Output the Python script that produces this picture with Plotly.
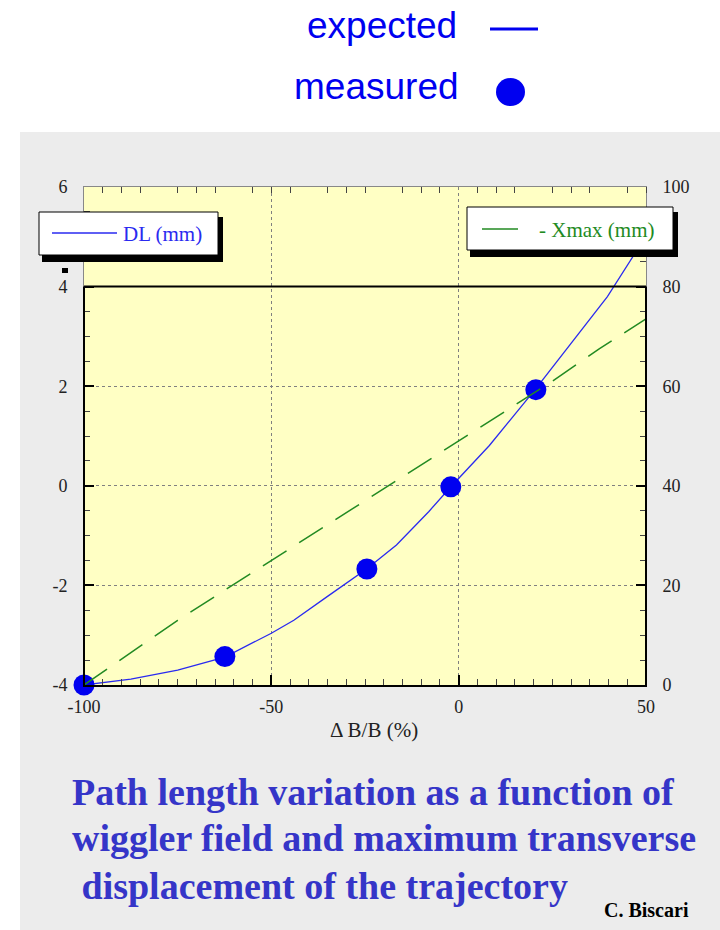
import plotly.graph_objects as go

# ---------------------------------------------------------------------------
# Data
# ---------------------------------------------------------------------------

# expected path length change DL (mm), left axis
DB_EXPECTED = [-100, -87.5, -75, -62.4, -50, -44, -35, -24.4, -16.6, -8, -2.2, 8.2, 20.5, 30, 39.7, 47, 50]
DL_EXPECTED = [-4.0, -3.88, -3.70, -3.44, -2.96, -2.70, -2.22, -1.66, -1.19, -0.52, -0.03, 0.81, 1.94, 2.86, 3.80, 4.66, 5.0]

# - Xmax (mm), right axis
DB_XMAX = [-100, -87.5, -75, -62.5, -50, -37.5, -25, -12.5, 0, 12.5, 25, 37.5, 50]
XMAX = [0, 6.5, 13, 19, 25, 31, 37, 43, 49, 55, 61, 67.5, 73.5]

# measured points (left axis)
DB_MEASURED = [-100, -62.4, -24.5, -2.1, 20.6]
DL_MEASURED = [-4.0, -3.43, -1.67, -0.02, 1.93]

X_TICKS = [-100, -50, 0, 50]
X_TICK_TEXT = ["-100", "-50", "0", "50"]
Y_LEFT_TICKS = [-4, -2, 0, 2, 4, 6]
Y_LEFT_TEXT = ["-4", "-2", "0", "2", "4", "6"]
Y_RIGHT_TICKS = [0, 20, 40, 60, 80, 100]

TITLE_LINES = [
    "Path length variation as a function of",
    "wiggler field and maximum transverse",
    "&nbsp;displacement of the trajectory",
]

# ---------------------------------------------------------------------------
# Styling
# ---------------------------------------------------------------------------

W, H = 720, 930
SERIF = "Liberation Serif, Times New Roman, serif"
SANS = "Liberation Sans, Arial, sans-serif"
BLUE = "#0000f0"
LINE_BLUE = "#2a2af0"
GREEN = "#228a22"
TITLE_BLUE = "#3535c8"
YELLOW = "#ffffc4"
PANEL = "#ececec"


def px(x):
    """pixel x -> paper fraction"""
    return x / W


def py(y):
    """pixel y (from top) -> paper fraction"""
    return 1 - y / H


X_DOMAIN = [px(84), px(646)]
Y_DOMAIN = [py(685), py(187)]
Y_RANGE = [-4, 6]


def y_frac(v):
    return Y_DOMAIN[0] + (v - Y_RANGE[0]) / (Y_RANGE[1] - Y_RANGE[0]) * (Y_DOMAIN[1] - Y_DOMAIN[0])


fig = go.Figure()

fig.add_trace(go.Scatter(
    x=DB_XMAX, y=XMAX, mode="lines", yaxis="y2",
    line=dict(color=GREEN, width=1.5, dash="28px,15px"),
    name="- Xmax (mm)",
))
fig.add_trace(go.Scatter(
    x=DB_EXPECTED, y=DL_EXPECTED, mode="lines",
    line=dict(color=LINE_BLUE, width=1.3),
    name="DL (mm)",
))
fig.add_trace(go.Scatter(
    x=DB_MEASURED, y=DL_MEASURED, mode="markers",
    marker=dict(color=BLUE, size=21, line=dict(width=0)),
    cliponaxis=False, name="measured",
))
# empty trace so the top (mirror) axis with its minor ticks is drawn
fig.add_trace(go.Scatter(x=[], y=[], xaxis="x2", showlegend=False, hoverinfo="skip"))

tickfont = dict(family=SERIF, size=18, color="#222")
minor_common = dict(ticks="inside", ticklen=6, tickwidth=1, tickcolor="#444", showgrid=False)

shapes = []
# white band above and left of the grey panel
shapes.append(dict(type="rect", xref="paper", yref="paper", layer="below",
                   x0=-0.05, x1=1.05, y0=py(132), y1=1.05,
                   fillcolor="white", line=dict(width=0)))
shapes.append(dict(type="rect", xref="paper", yref="paper", layer="below",
                   x0=-0.05, x1=px(20), y0=-0.05, y1=1.05,
                   fillcolor="white", line=dict(width=0)))
# solid black frame of the old -4..4 box
y4 = y_frac(4)
shapes.append(dict(type="line", xref="paper", yref="paper",
                   x0=X_DOMAIN[0], x1=X_DOMAIN[1], y0=y4, y1=y4,
                   line=dict(color="black", width=2)))
for xd in X_DOMAIN:
    shapes.append(dict(type="line", xref="paper", yref="paper",
                       x0=xd, x1=xd, y0=Y_DOMAIN[0], y1=y4,
                       line=dict(color="black", width=2)))
# little black dot artefact
shapes.append(dict(type="rect", xref="paper", yref="paper",
                   x0=px(62), x1=px(68), y0=py(273), y1=py(268),
                   fillcolor="black", line=dict(width=0)))

# legend boxes (shadow + white box + line sample)
for (bx0, by0, bx1, by1, lx0, lx1, ly, col) in [
    (39, 212, 218, 255, 52, 117, 233, LINE_BLUE),
    (467, 207, 673, 250, 482, 518, 229, GREEN),
]:
    shapes.append(dict(type="rect", xref="paper", yref="paper", layer="above",
                       x0=px(bx0 + 3), x1=px(bx1 + 5), y0=py(by1 + 7), y1=py(by0 + 5),
                       fillcolor="black", line=dict(width=0)))
    shapes.append(dict(type="rect", xref="paper", yref="paper", layer="above",
                       x0=px(bx0), x1=px(bx1), y0=py(by1), y1=py(by0),
                       fillcolor="white", line=dict(color="black", width=1)))
    shapes.append(dict(type="line", xref="paper", yref="paper", layer="above",
                       x0=px(lx0), x1=px(lx1), y0=py(ly), y1=py(ly),
                       line=dict(color=col, width=1.5)))

# top key: expected line and measured dot
shapes.append(dict(type="line", xref="paper", yref="paper",
                   x0=px(490), x1=px(538), y0=py(29), y1=py(29),
                   line=dict(color=BLUE, width=3)))
shapes.append(dict(type="circle", xref="paper", yref="paper",
                   x0=px(496), x1=px(525), y0=py(106), y1=py(78),
                   fillcolor=BLUE, line=dict(width=0)))

annotations = [
    dict(text="expected", x=px(459), y=py(26), xanchor="right", yanchor="middle",
         font=dict(family=SANS, size=37, color=BLUE)),
    dict(text="measured", x=px(461), y=py(86), xanchor="right", yanchor="middle",
         font=dict(family=SANS, size=37, color=BLUE)),
    dict(text="DL (mm)", x=px(121), y=py(234), xanchor="left", yanchor="middle",
         font=dict(family=SERIF, size=21, color=LINE_BLUE)),
    dict(text="- Xmax (mm)", x=px(537), y=py(230), xanchor="left", yanchor="middle",
         font=dict(family=SERIF, size=21, color=GREEN)),
    dict(text="Δ B/B (%)", x=px(374), y=py(730), xanchor="center", yanchor="middle",
         font=dict(family=SERIF, size=21, color="#222")),
    dict(text="C. Biscari", x=px(691), y=py(910), xanchor="right", yanchor="middle",
         font=dict(family=SERIF, size=20, color="black", weight="bold")),
]
for line_text, (lx, ly) in zip(TITLE_LINES, [(70, 792), (70, 838), (70, 886)]):
    annotations.append(dict(
        text=line_text, x=px(lx), y=py(ly), xanchor="left", yanchor="middle",
        font=dict(family=SERIF, size=38, color=TITLE_BLUE, weight="bold")))

for a in annotations:
    a.update(xref="paper", yref="paper", showarrow=False)

fig.update_layout(
    width=W, height=H, autosize=False,
    margin=dict(l=0, r=0, t=0, b=0, pad=0, autoexpand=False),
    paper_bgcolor=PANEL,
    plot_bgcolor=YELLOW,
    showlegend=False,
    hovermode=False,
    xaxis=dict(
        domain=X_DOMAIN, range=[-100, 50], anchor="y",
        tickmode="array", tickvals=X_TICKS, ticktext=X_TICK_TEXT,
        ticks="inside", ticklen=10, tickwidth=2, tickcolor="black",
        showline=True, linecolor="black", linewidth=2,
        showgrid=True, gridcolor="#808080", griddash="dot", gridwidth=1,
        zeroline=False, tickfont=tickfont, ticklabelstandoff=4,
        automargin=False,
        minor=dict(tickmode="linear", tick0=0, dtick=5, **minor_common),
    ),
    xaxis2=dict(
        overlaying="x", side="top", anchor="y", range=[-100, 50],
        showticklabels=False, showgrid=False, zeroline=False,
        ticks="", showline=True, linecolor="#888", linewidth=1,
        automargin=False,
        minor=dict(tickmode="linear", tick0=0, dtick=5, **minor_common),
    ),
    yaxis=dict(
        domain=Y_DOMAIN, range=Y_RANGE, anchor="x",
        tickmode="array", tickvals=Y_LEFT_TICKS, ticktext=Y_LEFT_TEXT,
        ticks="inside", ticklen=10, tickwidth=2, tickcolor="black",
        showline=True, linecolor="#888", linewidth=1,
        showgrid=True, gridcolor="#808080", griddash="dot", gridwidth=1,
        zeroline=False, tickfont=tickfont, ticklabelstandoff=12,
        automargin=False,
        minor=dict(tickmode="linear", tick0=0, dtick=0.5, **minor_common),
    ),
    yaxis2=dict(
        overlaying="y", side="right", anchor="x", range=[0, 100],
        tickmode="array", tickvals=Y_RIGHT_TICKS,
        ticks="inside", ticklen=10, tickwidth=2, tickcolor="black",
        showline=True, linecolor="#888", linewidth=1,
        showgrid=False, zeroline=False, tickfont=tickfont, ticklabelstandoff=12,
        automargin=False,
        minor=dict(tickmode="linear", tick0=0, dtick=5, **minor_common),
    ),
    shapes=shapes,
    annotations=annotations,
)

# the page body has a default 8 px margin; drop it so the figure sits at 0,0
fig.write_html(
    "out.html",
    config={"displayModeBar": False},
    post_script="document.body.style.margin = '0';",
)
